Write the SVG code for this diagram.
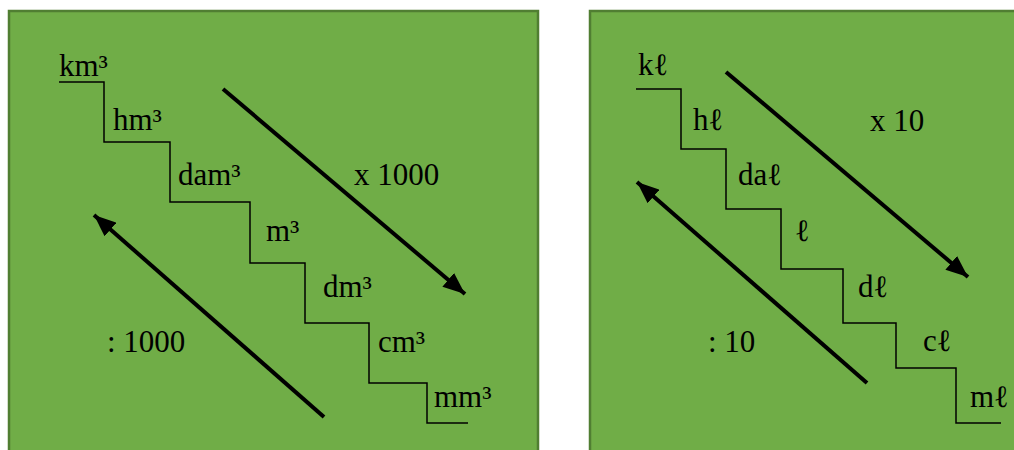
<svg xmlns="http://www.w3.org/2000/svg" width="1014" height="450" viewBox="0 0 1014 450">
<style>
.panel{fill:#70AD47;stroke:#507E32;stroke-width:2.5}
.stair{fill:none;stroke:#000;stroke-width:1.5}
.arr{fill:none;stroke:#000;stroke-width:4}
text{font-family:"Liberation Serif","DejaVu Serif",serif;font-size:31px;fill:#000}
</style>
<defs>
<marker id="ah" markerUnits="userSpaceOnUse" viewBox="0 0 22 18" refX="22" refY="9" markerWidth="22" markerHeight="18" orient="auto">
<path d="M0,0 L22,9 L0,18 Z" fill="#000"/>
</marker>
</defs>
<rect width="1014" height="450" fill="#fff"/>
<g id="panel-volume">
<rect class="panel" x="9" y="11" width="529" height="450"/>
</g>
<g id="panel-capacity">
<rect class="panel" x="590" y="11" width="440" height="450"/>
</g>
<g id="connectors">
<path class="stair" d="M59,82 H104 V142 H170 V202 H250 V263 H305 V323 H369 V383 H427 V423 H468"/>
<path class="stair" d="M636,89 H681 V149 H726 V209 H781 V269 H843 V323 H896 V368 H956 V423 H1001"/>
<line class="arr" x1="223" y1="89" x2="465" y2="294" marker-end="url(#ah)"/>
<line class="arr" x1="324" y1="417" x2="94" y2="215" marker-end="url(#ah)"/>
<line class="arr" x1="726" y1="72" x2="968" y2="277" marker-end="url(#ah)"/>
<line class="arr" x1="867" y1="383" x2="637" y2="182" marker-end="url(#ah)"/>
</g>
<g id="label-km3"><text x="59" y="76">km³</text></g>
<g id="label-hm3"><text x="113" y="130">hm³</text></g>
<g id="label-dam3"><text x="178" y="185">dam³</text></g>
<g id="label-m3"><text x="266" y="241">m³</text></g>
<g id="label-dm3"><text x="323" y="297">dm³</text></g>
<g id="label-cm3"><text x="378" y="352">cm³</text></g>
<g id="label-mm3"><text x="434" y="407">mm³</text></g>
<g id="label-x1000"><text x="354" y="185">x 1000</text></g>
<g id="label-div1000"><text x="107" y="352">: 1000</text></g>
<g id="label-kl"><text x="638" y="75">kℓ</text></g>
<g id="label-hl"><text x="693" y="130">hℓ</text></g>
<g id="label-dal"><text x="738" y="185">daℓ</text></g>
<g id="label-l"><text x="795" y="241">ℓ</text></g>
<g id="label-dl"><text x="858" y="297">dℓ</text></g>
<g id="label-cl"><text x="923" y="351">cℓ</text></g>
<g id="label-ml"><text x="970" y="407">mℓ</text></g>
<g id="label-x10"><text x="870" y="131">x 10</text></g>
<g id="label-div10"><text x="708" y="352">: 10</text></g>
</svg>
